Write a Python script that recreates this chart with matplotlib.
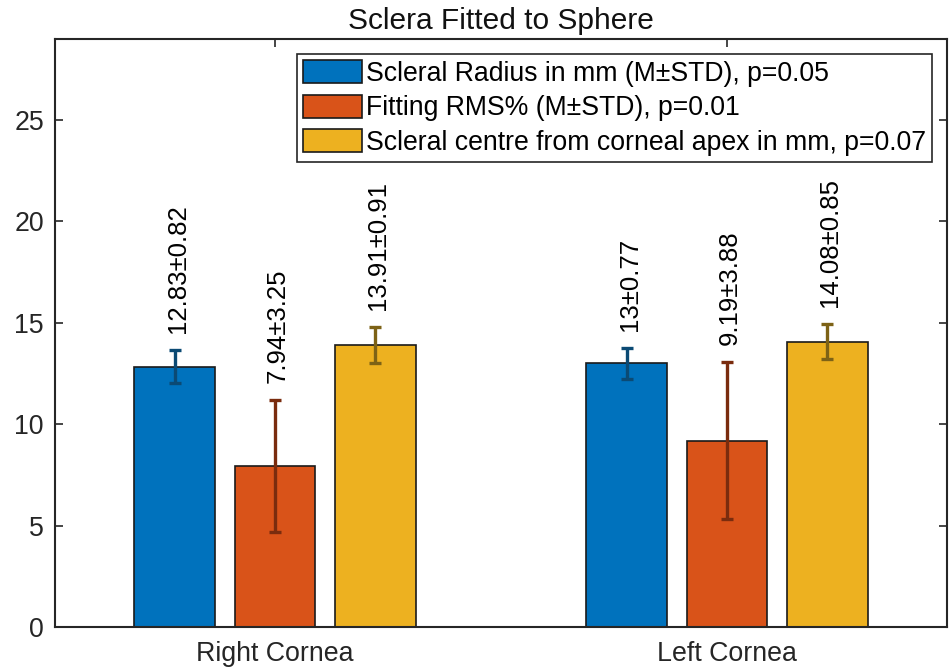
import matplotlib
matplotlib.use("Agg")
import matplotlib.pyplot as plt
import numpy as np

plt.rcParams['font.family'] = ['Liberation Sans', 'DejaVu Sans']

categories = ["Right Cornea", "Left Cornea"]
series_names = ["Scleral Radius in mm (M\u00b1STD), p=0.05",
                "Fitting RMS% (M\u00b1STD), p=0.01",
                "Scleral centre from corneal apex in mm, p=0.07"]
means = [[12.83, 13.00],   # scleral radius
         [7.94, 9.19],     # fitting RMS%
         [13.91, 14.08]]   # scleral centre
stds = [[0.82, 0.77],
        [3.25, 3.88],
        [0.91, 0.85]]
labels = [["12.83\u00b10.82", "13\u00b10.77"],
          ["7.94\u00b13.25", "9.19\u00b13.88"],
          ["13.91\u00b10.91", "14.08\u00b10.85"]]

bar_colors = ["#0072BD", "#D95319", "#EDB120"]
err_colors = ["#0B4A74", "#7A2C0E", "#7D6216"]

fig = plt.figure(figsize=(9.49, 6.68), dpi=100)
ax = fig.add_axes([55/949, 41/668, 892/949, 588/668])

x = np.arange(1, len(categories) + 1)
slot = 0.2222
bw = slot * 0.8
for i in range(3):
    xi = x + (i - 1) * slot
    ax.bar(xi, means[i], width=bw, color=bar_colors[i], edgecolor="#1a1a1a",
           linewidth=1.2, label=series_names[i], zorder=2)
    ax.errorbar(xi, means[i], yerr=stds[i], fmt='none', ecolor=err_colors[i],
                elinewidth=2.4, capsize=4.5, capthick=2.4, zorder=3)
    for j in range(len(categories)):
        ax.annotate(labels[i][j], xy=(xi[j], means[i][j] + stds[i][j]),
                    xytext=(3, 17), textcoords='offset pixels',
                    rotation=90, ha='center', va='bottom', fontsize=18.5,
                    color='black')

ax.set_xlim(0.513, 2.487)
ax.set_ylim(0, 29)
ax.set_yticks([0, 5, 10, 15, 20, 25])
ax.set_xticks(x)
ax.set_xticklabels(categories)
ax.tick_params(direction='in', top=True, right=True, length=6, width=1.2,
               labelsize=19.3, colors='#262626', pad=8)
ax.tick_params(axis='x', pad=10)
for s in ax.spines.values():
    s.set_linewidth(1.5)
    s.set_color('#262626')

ax.set_title("Sclera Fitted to Sphere", fontsize=21.5, color='#111111', pad=7)

leg = ax.legend(loc='upper right', bbox_to_anchor=(0.983, 0.9745),
                borderaxespad=0, fontsize=19.2, fancybox=False,
                edgecolor='#262626', framealpha=1, handlelength=2.2,
                handleheight=0.95, handletextpad=0.15, labelspacing=0.3,
                borderpad=0.22)
leg.get_frame().set_linewidth(1.2)
for h in leg.legend_handles:
    h.set_edgecolor('#1a1a1a')

fig.savefig("out.png", dpi=100)
